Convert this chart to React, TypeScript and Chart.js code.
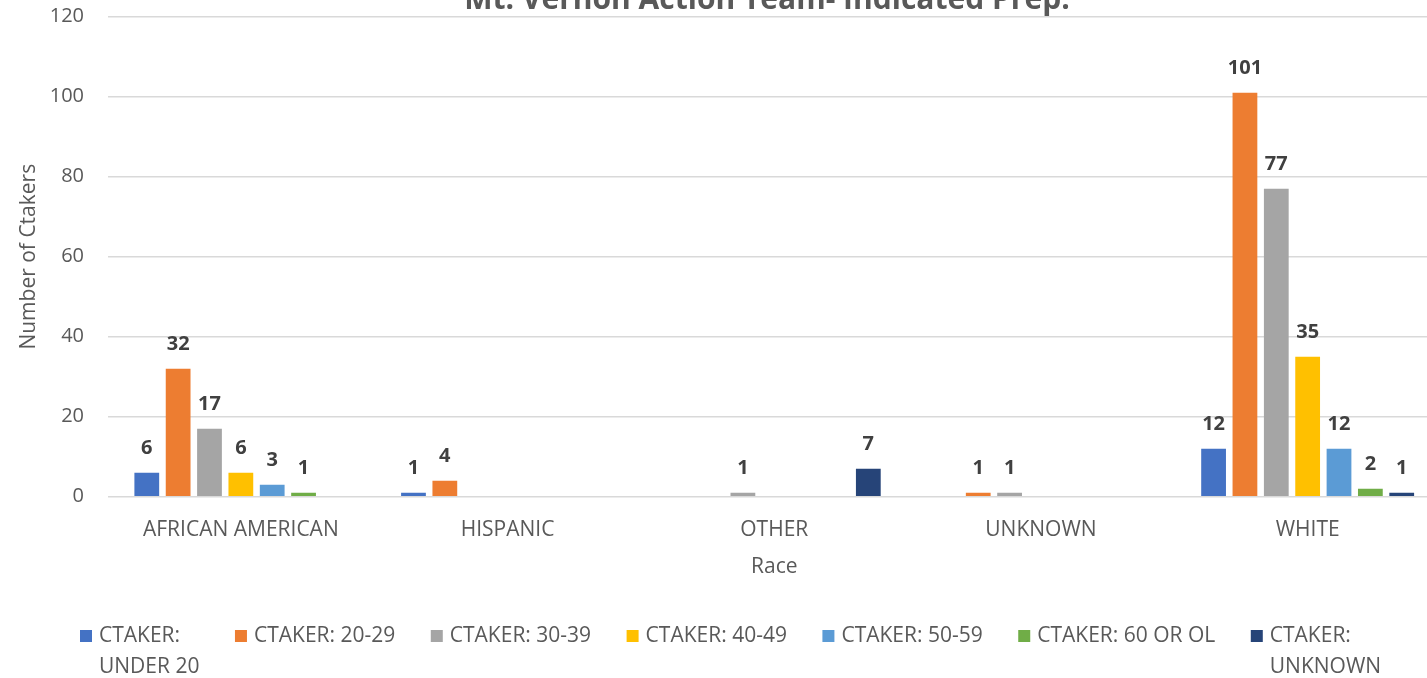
import React, { useEffect, useRef } from "react";
import { Chart, registerables } from "chart.js";

Chart.register(...registerables);

const TITLE = "Mt. Vernon Action Team- Indicated Prep.";
const X_TITLE = "Race";
const Y_TITLE = "Number of Ctakers";
const CATEGORIES = ["AFRICAN AMERICAN", "HISPANIC", "OTHER", "UNKNOWN", "WHITE"];
const SERIES_LABELS = [
  "CTAKER: UNDER 20",
  "CTAKER: 20-29",
  "CTAKER: 30-39",
  "CTAKER: 40-49",
  "CTAKER: 50-59",
  "CTAKER: 60 OR OL",
  "CTAKER: UNKNOWN",
];
const LEGEND_LINES = [
  ["CTAKER:", "UNDER 20"],
  ["CTAKER: 20-29"],
  ["CTAKER: 30-39"],
  ["CTAKER: 40-49"],
  ["CTAKER: 50-59"],
  ["CTAKER: 60 OR OL"],
  ["CTAKER:", "UNKNOWN"],
];
const UNDER_20 = [6, 1, 0, 0, 12];
const AGE_20_29 = [32, 4, 0, 1, 101];
const AGE_30_39 = [17, 0, 1, 1, 77];
const AGE_40_49 = [6, 0, 0, 0, 35];
const AGE_50_59 = [3, 0, 0, 0, 12];
const AGE_60_OR_OL = [1, 0, 0, 0, 2];
const AGE_UNKNOWN = [0, 0, 7, 0, 1];
const SERIES_VALUES = [UNDER_20, AGE_20_29, AGE_30_39, AGE_40_49, AGE_50_59, AGE_60_OR_OL, AGE_UNKNOWN];
const COLORS = ["#4472C4", "#ED7D31", "#A5A5A5", "#FFC000", "#5B9BD5", "#70AD47", "#264478"];
const Y_MIN = 0;
const Y_MAX = 120;
const Y_STEP = 20;

const FONT = "'Open Sans', sans-serif";
const TEXT_COLOR = "#595959";
const SHIFT_Y = 40;

const titlePlugin = {
  id: "cutTitle",
  afterDraw(chart: any) {
    const ctx = chart.ctx;
    ctx.save();
    ctx.font = `bold 30px ${FONT}`;
    ctx.fillStyle = TEXT_COLOR;
    ctx.textAlign = "center";
    ctx.textBaseline = "alphabetic";
    ctx.fillText(TITLE, 767, SHIFT_Y + 9);
    ctx.restore();
  },
};

const labelPlugin = {
  id: "valueLabels",
  afterDatasetsDraw(chart: any) {
    const ctx = chart.ctx;
    ctx.save();
    ctx.font = `bold 20px ${FONT}`;
    ctx.fillStyle = "#404040";
    ctx.textAlign = "center";
    ctx.textBaseline = "middle";
    chart.data.datasets.forEach((ds: any, i: number) => {
      const meta = chart.getDatasetMeta(i);
      meta.data.forEach((el: any, j: number) => {
        const v = ds.data[j];
        if (v && v > 0) ctx.fillText(String(v), el.x, el.y - 24);
      });
    });
    ctx.restore();
  },
};

const legendPlugin = {
  id: "wrapLegend",
  afterDraw(chart: any) {
    const ctx = chart.ctx;
    ctx.save();
    ctx.font = `21px ${FONT}`;
    ctx.textAlign = "left";
    ctx.textBaseline = "middle";
    let x = 80;
    const y1 = SHIFT_Y + 636;
    const lineH = 31;
    chart.data.datasets.forEach((ds: any, i: number) => {
      const lines = LEGEND_LINES[i];
      ctx.fillStyle = ds.backgroundColor;
      ctx.fillRect(x, y1 - 6, 12, 12);
      ctx.fillStyle = TEXT_COLOR;
      let w = 0;
      lines.forEach((ln: string, k: number) => {
        ctx.fillText(ln, x + 19, y1 + k * lineH);
        w = Math.max(w, ctx.measureText(ln).width);
      });
      x += 19 + w + 35.5;
    });
    ctx.restore();
  },
};

export default function App() {
  const ref = useRef<HTMLCanvasElement | null>(null);
  useEffect(() => {
    if (!ref.current) return;
    Chart.defaults.font.family = FONT;
    Chart.defaults.font.size = 21;
    Chart.defaults.color = TEXT_COLOR;
    const chart = new Chart(ref.current, {
      type: "bar",
      data: {
        labels: CATEGORIES,
        datasets: SERIES_VALUES.map((vals, i) => ({
          label: SERIES_LABELS[i],
          data: vals,
          backgroundColor: COLORS[i],
          borderWidth: 0,
          categoryPercentage: 0.823,
          barPercentage: 0.79,
        })),
      },
      options: {
        animation: false,
        responsive: false,
        maintainAspectRatio: false,
        layout: { padding: { top: SHIFT_Y + 16.7, left: 0, right: 19, bottom: 81.3 } },
        plugins: {
          legend: { display: false },
          title: { display: false },
          tooltip: { enabled: false },
        },
        scales: {
          x: {
            grid: { display: false, drawTicks: false },
            border: { display: false },
            ticks: { padding: 21, color: TEXT_COLOR, font: { size: 21 }, maxRotation: 0, autoSkip: false },
            title: { display: true, text: X_TITLE, color: TEXT_COLOR, font: { size: 21 }, padding: { top: 0, bottom: 17.1 } },
            afterFit: (s: any) => {
              s.height = 100;
            },
          },
          y: {
            min: Y_MIN,
            max: Y_MAX,
            ticks: { stepSize: Y_STEP, padding: 23.5, color: TEXT_COLOR, font: { size: 20 } },
            grid: { color: "#d9d9d9", lineWidth: 1.5, drawTicks: false },
            border: { display: false },
            title: { display: true, text: Y_TITLE, color: TEXT_COLOR, font: { size: 21 }, padding: { top: 16.7, bottom: 0 } },
            afterFit: (s: any) => {
              s.width = 107.5;
            },
          },
        },
      },
      plugins: [labelPlugin, titlePlugin, legendPlugin],
    });
    return () => chart.destroy();
  }, []);
  return (
    <div style={{ position: "fixed", left: 0, top: 0, width: 1427, height: 678, overflow: "hidden", background: "#fff" }}>
      <canvas
        ref={ref}
        width={1460}
        height={678 + SHIFT_Y}
        style={{ position: "absolute", left: 0, top: -SHIFT_Y, width: 1460, height: 678 + SHIFT_Y }}
      />
    </div>
  );
}
